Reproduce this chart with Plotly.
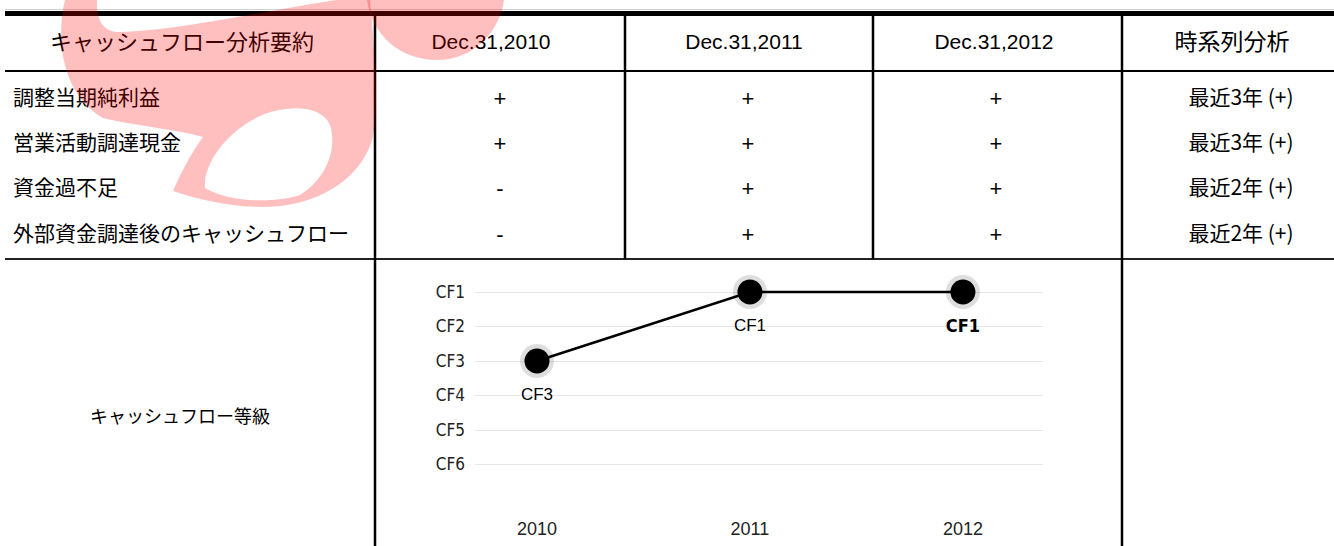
import plotly.graph_objects as go

W, H = 1334, 546

# ---------------- data ----------------
header_left = "キャッシュフロー分析要約"
period_labels = ["Dec.31,2010", "Dec.31,2011", "Dec.31,2012"]
header_right = "時系列分析"
row_labels = ["調整当期純利益", "営業活動調達現金", "資金過不足", "外部資金調達後のキャッシュフロー"]
signs_2010 = ["+", "+", "-", "-"]
signs_2011 = ["+", "+", "+", "+"]
signs_2012 = ["+", "+", "+", "+"]
trend = ["最近3年 (+)", "最近3年 (+)", "最近2年 (+)", "最近2年 (+)"]
grade_label = "キャッシュフロー等級"
years = ["2010", "2011", "2012"]
grade_values = [3, 1, 1]
grade_names = ["CF1", "CF2", "CF3", "CF4", "CF5", "CF6"]

# ---------------- layout constants (pixels) ----------------
header_y = 44
row_y = [100, 145, 190, 236]
col_x = [500, 748, 996]
header_x = [491, 744, 994]
trend_x = 1241
label_x = 13

JP = "Noto Sans CJK JP"
LAT = "Liberation Sans, Arial, sans-serif"
COND = "DejaVu Sans Condensed, Liberation Sans Narrow, Arial Narrow, sans-serif"

fig = go.Figure()

# ---------------- chart (grade) ----------------
fig.add_trace(go.Scatter(
    x=years, y=grade_values, mode="markers",
    marker=dict(size=34, color="rgba(0,0,0,0.13)"),
    hoverinfo="skip", showlegend=False, cliponaxis=False,
    xaxis="x", yaxis="y"))
fig.add_trace(go.Scatter(
    x=years, y=grade_values, mode="lines+markers",
    line=dict(color="black", width=2.5),
    marker=dict(size=25, color="black"),
    showlegend=False, cliponaxis=False, xaxis="x", yaxis="y"))
point_text = [f"CF{v}" for v in grade_values]
point_text[-1] = f"<b>{point_text[-1]}</b>"
fig.add_trace(go.Scatter(
    x=years, y=grade_values, mode="markers+text",
    marker=dict(size=40, color="rgba(0,0,0,0)"),
    text=point_text, textposition="bottom center",
    textfont=dict(family=[LAT, LAT, "DejaVu Sans Condensed"], size=[17, 17, 18], color="black"),
    hoverinfo="skip", showlegend=False, cliponaxis=False,
    xaxis="x", yaxis="y"))

# ---------------- table text (pixel overlay axis) ----------------
def txt(xs, ys, texts, family, size, pos="middle center", color="black"):
    fig.add_trace(go.Scatter(
        x=xs, y=ys, mode="text", text=texts, textposition=pos,
        textfont=dict(family=family, size=size, color=color),
        hoverinfo="skip", showlegend=False, cliponaxis=False,
        xaxis="x2", yaxis="y2"))

txt([182], [header_y], [header_left], JP, 22)
txt(header_x, [header_y] * 3, period_labels, LAT, 21)
txt([1232], [header_y], [header_right], JP, 23)
txt([label_x] * 4, row_y, row_labels, JP, 21, pos="middle right")
for cx, signs in zip(col_x, [signs_2010, signs_2011, signs_2012]):
    txt([cx] * 4, row_y, signs, LAT, 22)
txt([trend_x] * 4, row_y, trend, JP, 21)
txt([180], [418], [grade_label], JP, 18)

# ---------------- table lines & watermark ----------------
shapes = []
def hline(y, x0, x1, w, color="black"):
    shapes.append(dict(type="line", xref="x2", yref="y2", x0=x0, x1=x1, y0=y, y1=y,
                       line=dict(color=color, width=w)))
def vline(x, y0, y1, w, color="black"):
    shapes.append(dict(type="line", xref="x2", yref="y2", x0=x, x1=x, y0=y0, y1=y1,
                       line=dict(color=color, width=w)))

hline(9.5, 5, W, 1, "#cfcfcf")
hline(13.5, 5, W, 5)
hline(71, 5, W, 2)
hline(259, 5, W, 2, "#222")
vline(375, 16, H, 2.5)
vline(625, 16, 259, 2.5)
vline(873, 16, 259, 2.5)
vline(1122, 16, H, 2.5)

s_path = (
    "M 65,0 L 97,0 C 96,20 103,32 120,32 C 175,31 260,12 336,0 L 370,0 "
    "C 374,40 378,100 374,130 C 370,165 335,200 280,206 C 240,210 200,200 173,191 "
    "C 182,170 192,152 203,137 C 180,130 130,125 103,118 C 80,105 66,80 62,50 "
    "C 60,30 62,12 65,0 Z "
    "M 205,188 C 203,165 225,132 262,115 C 290,104 322,106 330,125 "
    "C 338,150 325,180 300,195 C 275,203 230,203 205,188 Z"
)
blob_path = "M 367,0 C 372,35 400,60 437,60 C 475,60 500,30 504,0 Z"
for p in (s_path, blob_path):
    shapes.append(dict(type="path", xref="x2", yref="y2", path=p,
                       fillcolor="rgba(255,0,0,0.25)", line=dict(width=0)))

fig.update_layout(
    width=W, height=H,
    margin=dict(l=0, r=0, t=0, b=0),
    paper_bgcolor="white", plot_bgcolor="rgba(0,0,0,0)",
    showlegend=False,
    shapes=shapes,
    xaxis=dict(domain=[475 / W, 1043 / W], type="category", range=[-0.291, 2.376],
               showgrid=False, zeroline=False, showline=False, ticks="",
               tickfont=dict(family=LAT, size=18, color="#222"),
               ticklabelstandoff=17, anchor="y", fixedrange=True),
    yaxis=dict(domain=[1 - 499 / H, 1 - 274.75 / H], range=[7, 0.5],
               tickvals=[1, 2, 3, 4, 5, 6, 7], ticktext=grade_names + [""],
               showgrid=True, gridcolor="#e6e6e6", gridwidth=1,
               zeroline=False, showline=False, ticks="",
               tickfont=dict(family=COND, size=17, color="#222"),
               ticklabelstandoff=9, anchor="x", fixedrange=True),
    xaxis2=dict(domain=[0, 1], range=[0, W], visible=False, anchor="y2", fixedrange=True),
    yaxis2=dict(domain=[0, 1], range=[H, 0], visible=False, anchor="x2", fixedrange=True),
)

fig.write_html(
    "out.html",
    config={"displayModeBar": False},
    post_script="document.body.style.margin='0';document.body.style.overflow='hidden';",
)
